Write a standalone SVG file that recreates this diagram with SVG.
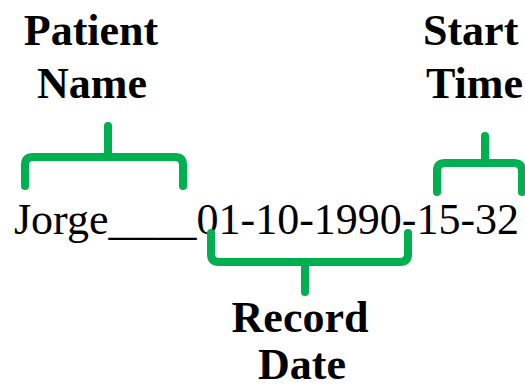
<svg xmlns="http://www.w3.org/2000/svg" width="525" height="389" viewBox="0 0 525 389">
  <style>
    .label { font-family: "Liberation Serif", "Times New Roman", serif; font-weight: bold; font-size: 44px; fill: #000; }
    .record { font-family: "Liberation Serif", "Times New Roman", serif; font-size: 44px; fill: #000; }
    .brace { fill: none; stroke: #00b050; stroke-width: 8; stroke-linecap: round; stroke-linejoin: round; }
  </style>
  <rect width="525" height="389" fill="#fff"/>

  <g id="filename">
    <text class="record" x="14" y="234">Jorge____01-10-1990-15-32</text>
  </g>

  <g id="patient-name">
    <text class="label" x="91" y="45" text-anchor="middle">Patient</text>
    <text class="label" x="92" y="98" text-anchor="middle">Name</text>
  </g>

  <g id="start-time">
    <text class="label" x="423" y="45">Start</text>
    <text class="label" x="426" y="98">Time</text>
  </g>

  <g id="record-date">
    <text class="label" x="300" y="332" text-anchor="middle">Record</text>
    <text class="label" x="302" y="379" text-anchor="middle">Date</text>
  </g>

  <g id="connectors">
    <!-- brace over the name -->
    <path class="brace" d="M25 186 V165 Q25 157 33 157 H175 Q183 157 183 165 V186 M108 157 V126"/>
    <!-- brace over the time -->
    <path class="brace" d="M437 192 V171 Q437 163 445 163 H514 Q522 163 522 171 V192 M485 163 V136"/>
    <!-- brace under the date -->
    <path class="brace" d="M211 233 V254 Q211 262 219 262 H400 Q408 262 408 254 V233 M305 262 V292"/>
  </g>
</svg>
